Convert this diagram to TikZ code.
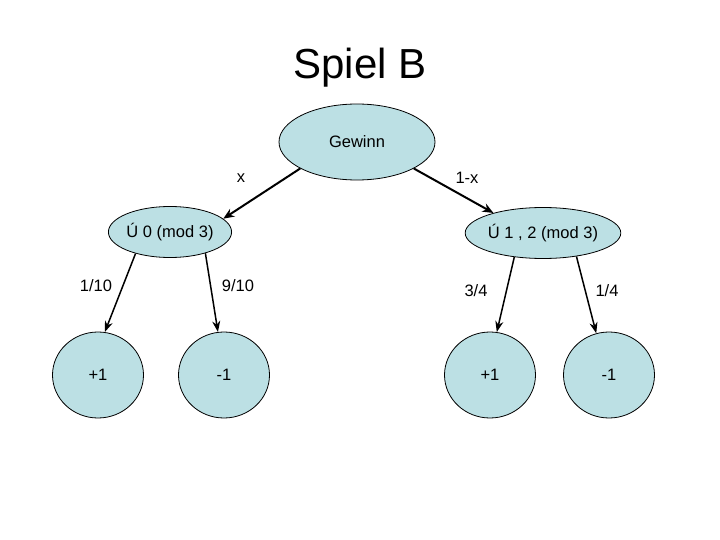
\documentclass[tikz,border=0pt]{standalone}
\usepackage{fontspec}
\setmainfont{Liberation Sans}
\usetikzlibrary{shapes.geometric,arrows.meta}
\definecolor{nodefill}{RGB}{188,224,228}
\begin{document}
\begin{tikzpicture}[x=1pt,y=-1pt,
  oval/.style={ellipse,draw=black,line width=0.8pt,fill=nodefill,inner sep=0pt,
    font=\fontsize{16.5}{19}\selectfont},
  lbl/.style={font=\fontsize{16.5}{19}\selectfont,inner sep=0pt},
  bigarrow/.style={line width=2pt,-{Stealth[length=11pt,width=9pt]}},
  smallarrow/.style={line width=1.5pt,-{Stealth[length=11pt,width=8pt]}}]
\useasboundingbox (0,0) rectangle (720,540);
\node[font=\fontsize{42}{50}\selectfont,inner sep=0pt] (title) at (360,68) {Spiel B};
\node[oval,minimum width=156pt,minimum height=76pt] (g) at (357,142) {Gewinn};
\node[oval,minimum width=121pt,minimum height=51pt] (l) at (170,232) {Ú 0 (mod 3)};
\node[oval,minimum width=129pt,minimum height=51pt] (r) at (543,233) {Ú 1 , 2 (mod 3)};
\node[oval,minimum width=91pt,minimum height=86pt] (lp) at (98,375) {+1};
\node[oval,minimum width=91pt,minimum height=86pt] (lm) at (224,375) {-1};
\node[oval,minimum width=91pt,minimum height=86pt] (rp) at (490,375) {+1};
\node[oval,minimum width=91pt,minimum height=86pt] (rm) at (609,375) {-1};
\draw[bigarrow] (g.205) -- (l.14);
\draw[bigarrow] (g.335) -- (r.158);
\draw[smallarrow] (l.212) -- (lp.81);
\draw[smallarrow] (l.329) -- (lm.98);
\draw[smallarrow] (r.220) -- (rp.81);
\draw[smallarrow] (r.325) -- (rm.107);
\node[lbl] (lx) at (241,178) {x};
\node[lbl] (l1x) at (467,178) {1-x};
\node[lbl] (l110) at (96,286) {1/10};
\node[lbl] (l910) at (238,286) {9/10};
\node[lbl] (l34) at (476,291) {3/4};
\node[lbl] (l14) at (607,291) {1/4};
\end{tikzpicture}
\end{document}
